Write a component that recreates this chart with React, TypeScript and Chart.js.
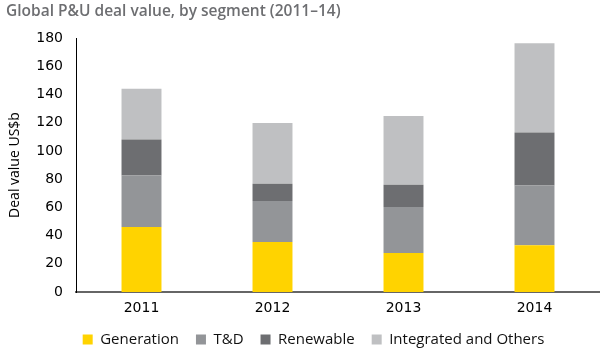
import React, { useEffect, useRef } from "react";
import { Chart, registerables } from "chart.js";

Chart.register(...registerables);

const categories = ["2011", "2012", "2013", "2014"];
const generation = [46, 35.5, 27.7, 33.2];
const transmission = [36.6, 29, 32.5, 42.3];
const renewable = [25.4, 12.3, 15.8, 37.6];
const integrated = [36, 43, 48.7, 63.1];
const seriesNames = ["Generation", "T&D", "Renewable", "Integrated and Others"];
const seriesColors = ["#FFD300", "#939598", "#6D6E71", "#BFC0C2"];

const legendShift = {
  id: "legendShift",
  afterLayout(chart: any) {
    if (chart.legend) {
      chart.legend.left += 21;
    }
  },
};

export default function App() {
  const ref = useRef<HTMLCanvasElement | null>(null);

  useEffect(() => {
    if (!ref.current) return;
    const values = [generation, transmission, renewable, integrated];
    const chart = new Chart(ref.current, {
      type: "bar",
      data: {
        labels: categories,
        datasets: values.map((v, i) => ({
          label: seriesNames[i],
          data: v,
          backgroundColor: seriesColors[i],
          borderWidth: 0,
          barPercentage: 0.305,
          categoryPercentage: 1,
        })),
      },
      plugins: [legendShift],
      options: {
        animation: false,
        responsive: true,
        maintainAspectRatio: false,
        layout: { padding: { left: 6, right: 0, top: 0, bottom: 0 } },
        plugins: {
          title: {
            display: true,
            text: "Global P&U deal value, by segment (2011\u201314)",
            align: "start",
            color: "#6D6E71",
            font: { family: "'Open Sans'", size: 15.5, weight: "600" },
            padding: { top: 2, bottom: 17.4 },
          },
          legend: {
            position: "bottom",
            labels: {
              boxWidth: 10,
              boxHeight: 10,
              padding: 17,
              color: "#111",
              font: { family: "'Open Sans'", size: 15 },
            },
          },
          tooltip: { enabled: false },
        },
        scales: {
          x: {
            stacked: true,
            grid: { display: false, drawTicks: false },
            border: { display: true, color: "#666", width: 2 },
            ticks: {
              color: "#000",
              padding: 8,
              font: { family: "'DejaVu Sans'", size: 14 },
            },
            afterFit: (s: any) => {
              s.height = 23;
            },
          },
          y: {
            stacked: true,
            min: 0,
            max: 180,
            grid: { display: false, drawTicks: false },
            border: { display: true, color: "#000", width: 1 },
            ticks: {
              stepSize: 20,
              color: "#000",
              padding: 13,
              font: { family: "'DejaVu Sans'", size: 14 },
            },
            title: {
              display: true,
              text: "Deal value US$b",
              color: "#000",
              font: { family: "'Open Sans'", size: 14 },
              padding: { top: 1, bottom: 0 },
            },
            afterFit: (s: any) => {
              s.width = 70;
            },
          },
        },
      },
    });
    return () => chart.destroy();
  }, []);

  return (
    <div style={{ position: "fixed", left: 0, top: 0, width: 600, height: 357, background: "#fff" }}>
      <canvas ref={ref} />
    </div>
  );
}
